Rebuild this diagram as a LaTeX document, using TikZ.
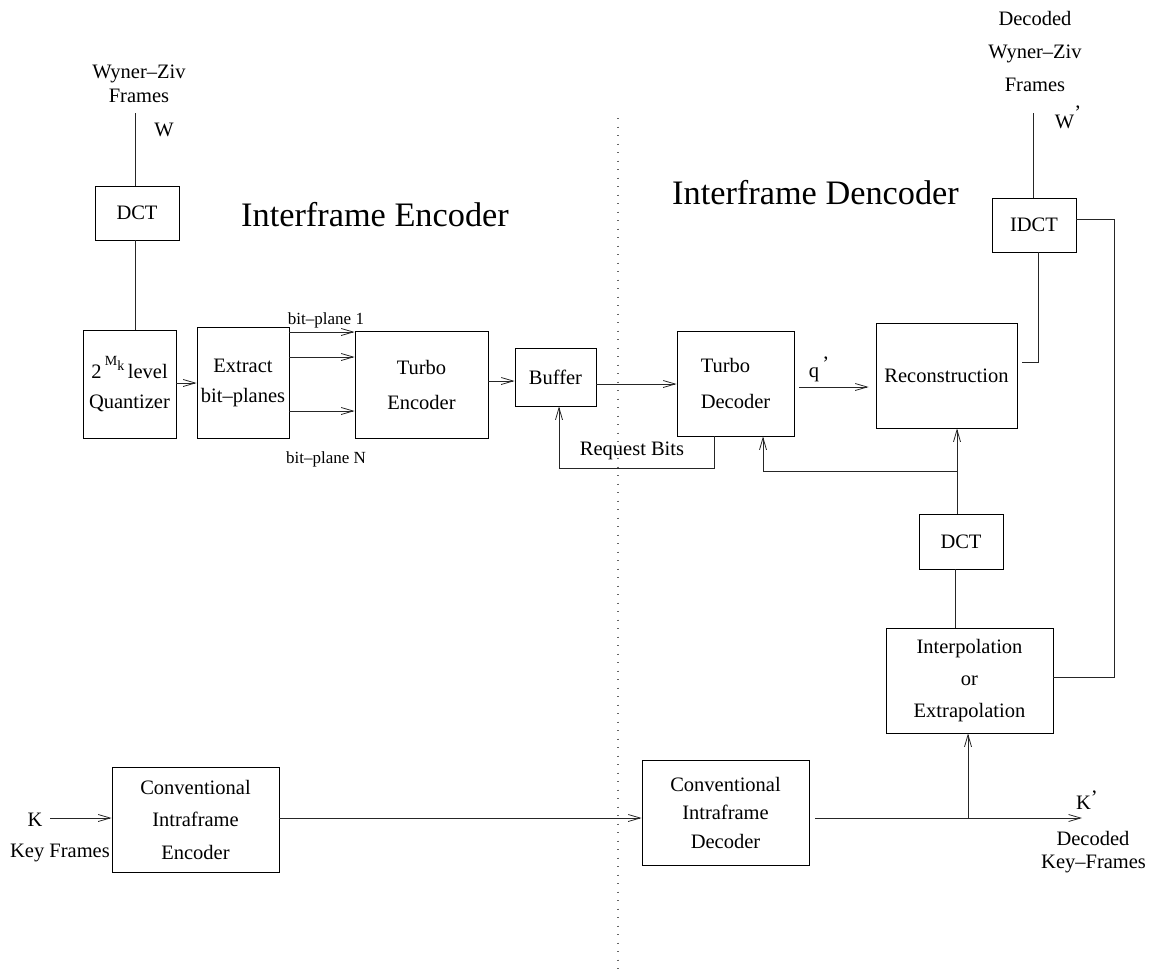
\documentclass[tikz,border=0pt]{standalone}
\usepackage{fontspec}
\setmainfont{Liberation Serif}
\usetikzlibrary{arrows.meta}
\begin{document}
\begin{tikzpicture}[x=1pt,y=-1pt,
  box/.style={draw, line width=0.8pt, inner sep=0pt, align=center, font=\fontsize{20.5}{33}\selectfont},
  lbl/.style={inner sep=0pt, align=center, font=\fontsize{20.5}{24}\selectfont},
  smalllbl/.style={inner sep=0pt, font=\fontsize{17}{20}\selectfont},
  titlelbl/.style={inner sep=0pt, font=\fontsize{34.3}{40}\selectfont},
  wire/.style={line width=0.8pt, draw=black!85},
  arr/.style={wire, -{Straight Barb[length=12pt,width=7pt,line width=0.8pt]}},
  sep/.style={line width=1.2pt, draw=black!60, dash pattern=on 1.3pt off 7.2pt},
]
\useasboundingbox (0,0) rectangle (1152,972);

% ---------- boxes ----------
\node[box, minimum width=84pt,  minimum height=54pt]  (dct1)    at (137,213)     {DCT};
\node[box, minimum width=93pt,  minimum height=108pt, font=\fontsize{20.5}{30}\selectfont] (quant) at (129.5,384)
  {2\,\raisebox{13pt}{\fontsize{14}{14}\selectfont M\raisebox{-5pt}{k}}\,level\\Quantizer};
\node[box, minimum width=92pt,  minimum height=111pt, font=\fontsize{20.5}{30}\selectfont] (extract) at (243,382.5) {Extract\\bit–planes};
\node[box, minimum width=133pt, minimum height=107pt, font=\fontsize{20.5}{35}\selectfont] (tenc) at (421.5,384.5) {Turbo\\Encoder};
\node[box, minimum width=81pt,  minimum height=58pt]  (buffer)  at (555.5,377)   {Buffer};
\node[box, minimum width=117pt, minimum height=105pt, align=left, font=\fontsize{20.5}{36}\selectfont] (tdec) at (735.5,383.5) {Turbo\\Decoder};
\node[box, minimum width=141pt, minimum height=105pt] (recon)   at (946.5,375.5) {Reconstruction};
\node[box, minimum width=84pt,  minimum height=54pt]  (idct)    at (1034,225)    {IDCT};
\node[box, minimum width=84pt,  minimum height=55pt]  (dct2)    at (961,541.5)   {DCT};
\node[box, minimum width=167pt, minimum height=105pt, font=\fontsize{20.5}{32}\selectfont] (interp) at (969.5,680.5) {Interpolation\\or\\Extrapolation};
\node[box, minimum width=167pt, minimum height=105pt, font=\fontsize{20.5}{32.5}\selectfont] (cenc) at (195.5,819.5) {Conventional\\Intraframe\\Encoder};
\node[box, minimum width=167pt, minimum height=105pt, font=\fontsize{20.5}{28.5}\selectfont] (cdec) at (725.5,812.5) {Conventional\\Intraframe\\Decoder};

% ---------- labels ----------
\node[lbl] (wzin)  at (139,84)   {Wyner–Ziv\\Frames};
\node[lbl] (win)   at (164,130)  {W};
\node[lbl, font=\fontsize{20.5}{33}\selectfont] (wzout) at (1035,51) {Decoded\\Wyner–Ziv\\Frames};
\node[lbl] (wout)  at (1068,117) {W\raisebox{9pt}{’}};
\node[smalllbl] (bp1) at (326,320) {bit–plane 1};
\node[smalllbl] (bpn) at (326,459) {bit–plane N};
\node[titlelbl] (tenc-title) at (375,215) {Interframe Encoder};
\node[titlelbl] (tdec-title) at (815.5,193) {Interframe Dencoder};
\node[lbl] (req)   at (632,451)  {Request Bits};
\node[lbl] (qlbl)  at (819,369)  {q\,\raisebox{7pt}{’}};
\node[lbl] (kin-l) at (35,820)   {K};
\node[lbl] (kf)    at (60,853)   {Key Frames};
\node[lbl] (kout-l) at (1087,800) {K\raisebox{5pt}{’}};
\node[lbl] (dk)    at (1093,838) {Decoded};
\node[lbl, anchor=west] (dkf) at (1041,864) {Key–Frames};

% ---------- helper coordinates ----------
\coordinate (wtop)   at (135,113);
\coordinate (wotop)  at (1033,113);
\coordinate (kin)    at (50,818);
\coordinate (kout)   at (1082,818);
\coordinate (kbr)    at (968,818);
\coordinate (fb)     at (957,471);
\coordinate (ri)     at (1114,677);
\coordinate (rt)     at (1114,219);
\coordinate (ib)     at (1038,362);
\coordinate (ibend)  at (1022,362);
\coordinate (septop) at (618,118);
\coordinate (sepbot) at (618,972);

% ---------- separator ----------
\draw[sep] (septop) -- (sepbot);

% ---------- connectors ----------
\draw[wire] (wtop) -- (wtop |- dct1.north);
\draw[wire] (wtop |- dct1.south) -- (wtop |- quant.north);
\draw[arr] (quant.east |- 0,383) -- (extract.west |- 0,383);
\draw[arr] (extract.east |- 0,332) -- (tenc.west |- 0,332);
\draw[arr] (extract.east |- 0,357) -- (tenc.west |- 0,357);
\draw[arr] (extract.east |- 0,411) -- (tenc.west |- 0,411);
\draw[arr] (tenc.east |- 0,381) -- (buffer.west |- 0,381);
\draw[arr] (buffer.east |- 0,384) -- (tdec.west |- 0,384);
\draw[arr] ([xshift=-21.5pt]tdec.south) -- ++(0,32) -| ([xshift=3.5pt]buffer.south);
\draw[arr] ([xshift=5pt]tdec.east |- 0,387) -- ([xshift=-7pt]recon.west |- 0,387);
\draw[arr] (fb |- dct2.north) -- (fb |- recon.south);
\draw[arr] (fb) -| ([xshift=27.5pt]tdec.south);
\draw[wire] (955,0 |- dct2.south) -- (955,0 |- interp.north);
\draw[wire] (interp.east |- ri) -- (ri) -- (rt) -- (idct.east |- rt);
\draw[wire] (wotop |- idct.north) -- (wotop);
\draw[wire] (ib |- idct.south) -- (ib) -- (ibend);
\draw[arr] (kin) -- (kin -| cenc.west);
\draw[arr] (cenc.east |- kin) -- (cdec.west |- kin);
\draw[arr] ([xshift=6pt]cdec.east |- kout) -- (kout);
\draw[arr] (kbr) -- (kbr |- interp.south);
\end{tikzpicture}
\end{document}
